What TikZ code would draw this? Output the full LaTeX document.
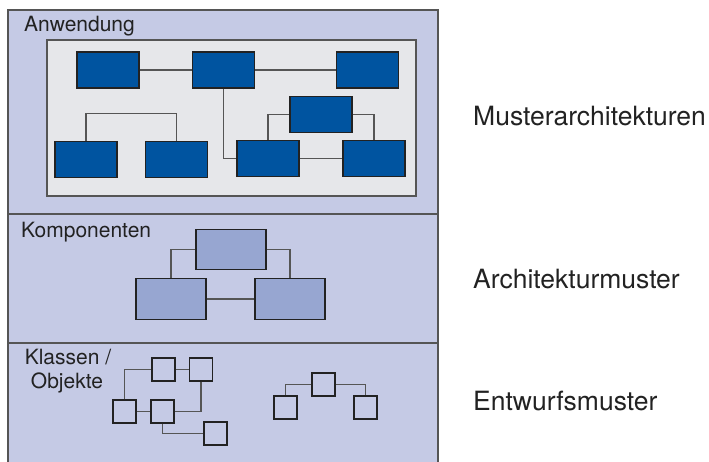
\documentclass[tikz,border=0pt]{standalone}
\usepackage{fontspec}
\setmainfont{TeX Gyre Heros}
\definecolor{lav}{HTML}{C5CAE5}
\definecolor{inner}{HTML}{E6E7EA}
\definecolor{dblue}{HTML}{0054A0}
\definecolor{mblue}{HTML}{97A6D1}
\definecolor{linec}{HTML}{555555}
\definecolor{edgec}{HTML}{222222}
\definecolor{txt}{HTML}{222222}
\tikzset{
  darkbox/.style={draw=edgec, line width=1.2pt, fill=dblue, minimum width=62pt, minimum height=36pt, inner sep=0pt},
  compbox/.style={draw=edgec, line width=1.2pt, fill=mblue, minimum width=70pt, minimum height=40.5pt, inner sep=0pt},
  smallbox/.style={draw=edgec, line width=1.2pt, minimum width=23pt, minimum height=23pt, inner sep=0pt},
  conn/.style={draw=linec, line width=1.3pt},
  lbl/.style={text=txt, inner sep=0pt, font=\fontsize{21}{24}\selectfont},
  biglbl/.style={text=txt, inner sep=0pt, font=\fontsize{26.5}{30}\selectfont, anchor=base west}
}
\begin{document}
\begin{tikzpicture}[x=1pt, y=-1pt]
\useasboundingbox (0,0) rectangle (709,461);
\begin{scope}
\clip (0,0) rectangle (709,461);
\draw[fill=lav, draw=linec, line width=1.5pt] (8,10) rectangle (438,470);
\draw[draw=linec, line width=1.5pt] (8,214) -- (438,214);
\draw[draw=linec, line width=1.5pt] (8,343) -- (438,343);
\end{scope}
% Anwendung
\node[lbl, anchor=base west] (anw) at (24,31.5) {Anwendung};
\draw[fill=inner, draw=linec, line width=1.3pt] (47,40) rectangle (416,196);
\node[darkbox] (A) at (108,70) {};
\node[darkbox] (B) at (223.5,70) {};
\node[darkbox] (C) at (367.5,70) {};
\node[darkbox] (D) at (321,114.5) {};
\node[darkbox] (E) at (86,159.5) {};
\node[darkbox] (F) at (176.5,159.5) {};
\node[darkbox] (G) at (268,158.5) {};
\node[darkbox] (H) at (374,158.5) {};
\draw[conn] (A.east) -- (B.west);
\draw[conn] (B.east) -- (C.west);
\draw[conn] (B.south) |- (G.west);
\draw[conn] (E.north) -- ++(0,-27.5) -| (F.north);
\draw[conn] (D.west) -| (G.north);
\draw[conn] (D.east) -| (H.north);
\draw[conn] (G.east) -- (H.west);
% Komponenten
\node[lbl, anchor=base west] (komp) at (21,237) {Komponenten};
\node[compbox] (T) at (231,249.5) {};
\node[compbox] (L) at (171,299) {};
\node[compbox] (R) at (290,299) {};
\draw[conn] (T.west) -| (L.north);
\draw[conn] (T.east) -| (R.north);
\draw[conn] (L.east) -- (R.west);
% Klassen / Objekte
\node[lbl, anchor=base] (kl1) at (68,364) {Klassen /};
\node[lbl, anchor=base] (kl2) at (67,388) {Objekte};
\node[smallbox] (S1) at (163.5,369.5) {};
\node[smallbox] (S2) at (201,369.5) {};
\node[smallbox] (S3) at (124.5,411.5) {};
\node[smallbox] (S4) at (162.5,411.5) {};
\node[smallbox] (S5) at (215.5,433.5) {};
\node[smallbox] (S6) at (323.5,384.5) {};
\node[smallbox] (S7) at (285.5,407.5) {};
\node[smallbox] (S8) at (365.5,407.5) {};
\draw[conn] (S3.north) |- (S1.west);
\draw[conn] (S1.east) -- (S2.west);
\draw[conn] (S3.east) -- (S4.west);
\draw[conn] (S2.south) |- (S4.east);
\draw[conn] (S4.south) |- (S5.west);
\draw[conn] (S6.west) -| (S7.north);
\draw[conn] (S6.east) -| (S8.north);
% right labels
\node[biglbl] (m1) at (473,125) {Musterarchitekturen};
\node[biglbl] (m2) at (473,288) {Architekturmuster};
\node[biglbl] (m3) at (473,410) {Entwurfsmuster};
\end{tikzpicture}
\end{document}
